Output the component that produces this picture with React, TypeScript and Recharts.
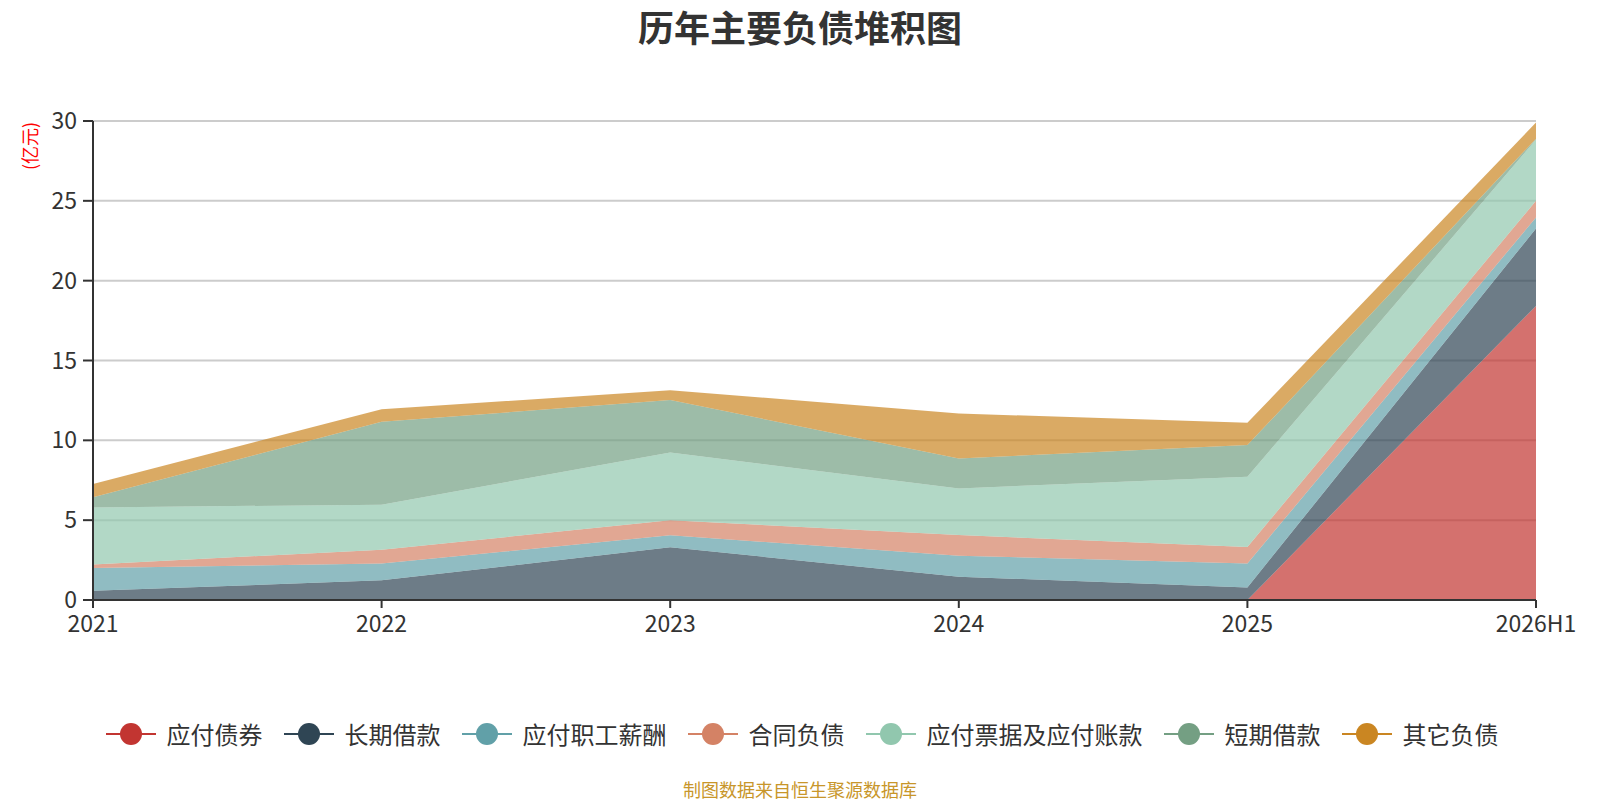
import { AreaChart, Area, XAxis, YAxis, CartesianGrid } from "recharts"

const years = ["2021", "2022", "2023", "2024", "2025", "2026H1"]

const bonds = [0, 0, 0, 0, 0, 18.42]
const longLoans = [0.58, 1.23, 3.3, 1.46, 0.79, 4.85]
const payroll = [1.42, 1.06, 0.75, 1.31, 1.5, 0.69]
const contract = [0.23, 0.86, 0.94, 1.3, 1.03, 1.04]
const payables = [3.57, 2.82, 4.25, 2.92, 4.4, 3.84]
const shortLoans = [0.63, 5.19, 3.28, 1.88, 1.98, 0.05]
const others = [0.83, 0.79, 0.62, 2.81, 1.4, 1.01]

const yTicks = [0, 5, 10, 15, 20, 25, 30]

const series = [
 { key: "bonds", name: "应付债券", color: "#c23531", values: bonds },
 { key: "longLoans", name: "长期借款", color: "#2f4554", values: longLoans },
 { key: "payroll", name: "应付职工薪酬", color: "#61a0a8", values: payroll },
 { key: "contract", name: "合同负债", color: "#d48265", values: contract },
 { key: "payables", name: "应付票据及应付账款", color: "#91c7ae", values: payables },
 { key: "shortLoans", name: "短期借款", color: "#749f83", values: shortLoans },
 { key: "others", name: "其它负债", color: "#ca8622", values: others },
]

const data = years.map((year, i) => {
 const row: Record<string, number | string> = { year }
 series.forEach(s => { row[s.key] = s.values[i] })
 return row
})

const font = "'Noto Sans CJK SC', 'Noto Sans', sans-serif"

export default function App() {
 return (
  <div style={{ position: "absolute", left: 0, top: 0, width: 1600, height: 800, background: "#fff", fontFamily: font }}>

   <div style={{ position: "absolute", top: 6, width: 1600, textAlign: "center", fontSize: 36, lineHeight: "40px", fontWeight: "bold", color: "#333" }}>
    历年主要负债堆积图
   </div>

   <AreaChart
    width={1600}
    height={800}
    data={data}
    margin={{ top: 121, right: 64, bottom: 160, left: 0 }}
   >
    <CartesianGrid vertical={false} stroke="#ccc" strokeWidth={2} />
    <XAxis
     dataKey="year"
     height={40}
     tickSize={8}
     tickMargin={8}
     axisLine={{ stroke: "#333", strokeWidth: 2 }}
     tickLine={{ stroke: "#333", strokeWidth: 2 }}
     tick={{ fill: "#333", fontSize: 23, fontFamily: font }}
     interval={0}
    />
    <YAxis
     width={93}
     domain={[0, 30]}
     ticks={yTicks}
     tickSize={10}
     tickMargin={6}
     axisLine={{ stroke: "#333", strokeWidth: 2 }}
     tickLine={{ stroke: "#333", strokeWidth: 2 }}
     tick={{ fill: "#333", fontSize: 23, fontFamily: font }}
     interval={0}
    />
    {series.map(s => (
     <Area
      key={s.key}
      type="linear"
      dataKey={s.key}
      name={s.name}
      stackId="debt"
      stroke="none"
      fill={s.color}
      fillOpacity={0.7}
      dot={false}
      activeDot={false}
      isAnimationActive={false}
     />
    ))}
    <text
     x={37}
     y={146}
     transform="rotate(-90 37 146)"
     textAnchor="middle"
     fill="#ff0000"
     fontSize={18}
     fontFamily={font}
    >
     (亿元)
    </text>
   </AreaChart>

   <div style={{ position: "absolute", top: 718, left: 2, width: 1600, display: "flex", justifyContent: "center", alignItems: "center", height: 32 }}>
    {series.map((s, i) => (
     <div key={s.key} style={{ display: "flex", alignItems: "center", marginRight: i < series.length - 1 ? 21 : 0 }}>
      <svg width={50} height={24} style={{ marginRight: 11 }}>
       <line x1={0} y1={12} x2={50} y2={12} stroke={s.color} strokeWidth={2} />
       <circle cx={25} cy={12} r={11} fill={s.color} />
      </svg>
      <span style={{ fontSize: 24, color: "#333", lineHeight: "32px" }}>{s.name}</span>
     </div>
    ))}
   </div>

   <div style={{ position: "absolute", top: 778, width: 1600, textAlign: "center", fontSize: 18, lineHeight: "22px", color: "#c8962a" }}>
    制图数据来自恒生聚源数据库
   </div>

  </div>
 )
}
